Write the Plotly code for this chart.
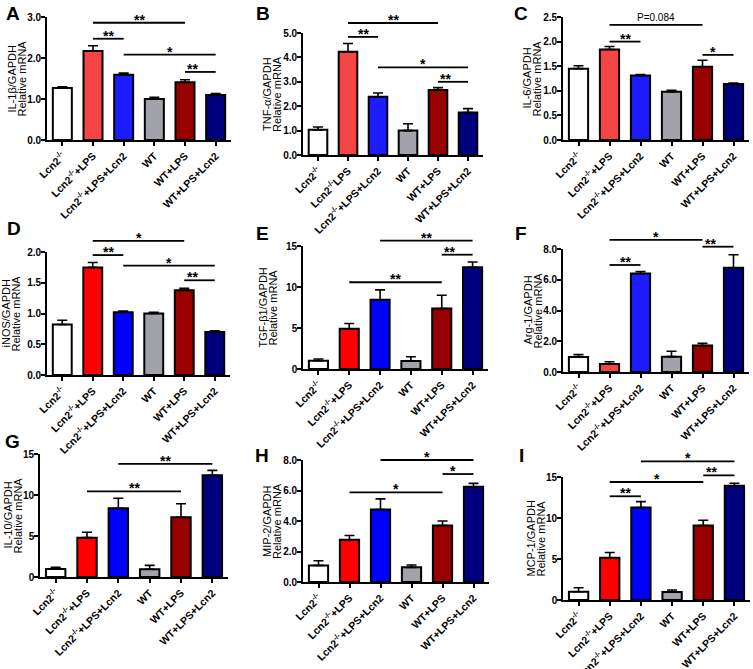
import plotly.graph_objects as go

W, H = 753, 669

groups = ["Lcn2<sup>-/-</sup>", "Lcn2<sup>-/-</sup>+LPS", "Lcn2<sup>-/-</sup>+LPS+Lcn2",
          "WT", "WT+LPS", "WT+LPS+Lcn2"]
groups_b = ["Lcn2<sup>-/-</sup>", "Lcn2<sup>-/-</sup>LPS", "Lcn2<sup>-/-</sup>+LPS+Lcn2",
            "WT", "WT+LPS", "WT+LPS+Lcn2"]

# mean values and upper error (SEM)
il1b_mean = [1.27, 2.17, 1.59, 1.00, 1.41, 1.10]
il1b_sem = [0.03, 0.13, 0.04, 0.04, 0.06, 0.03]
tnfa_mean = [1.03, 4.23, 2.39, 1.00, 2.66, 1.74]
tnfa_sem = [0.12, 0.34, 0.15, 0.28, 0.10, 0.16]
il6_mean = [1.45, 1.84, 1.31, 0.98, 1.49, 1.14]
il6_sem = [0.06, 0.06, 0.02, 0.03, 0.13, 0.02]
inos_mean = [0.82, 1.75, 1.02, 1.00, 1.38, 0.70]
inos_sem = [0.07, 0.08, 0.02, 0.02, 0.03, 0.02]
tgfb1_mean = [1.01, 4.90, 8.43, 0.97, 7.38, 12.40]
tgfb1_sem = [0.21, 0.65, 1.22, 0.53, 1.62, 0.65]
arg1_mean = [0.98, 0.52, 6.41, 1.00, 1.72, 6.78]
arg1_sem = [0.15, 0.15, 0.13, 0.35, 0.15, 0.85]
il10_mean = [0.98, 4.80, 8.37, 0.94, 7.28, 12.40]
il10_sem = [0.20, 0.65, 1.23, 0.48, 1.66, 0.60]
mip2_mean = [1.09, 2.77, 4.75, 0.96, 3.70, 6.25]
mip2_sem = [0.30, 0.28, 0.70, 0.15, 0.30, 0.22]
mcp1_mean = [1.01, 5.15, 11.27, 0.97, 9.08, 13.94]
mcp1_sem = [0.49, 0.65, 0.73, 0.25, 0.65, 0.29]

# significance brackets: (from group index, to group index, height, label)
il1b_sig = [(1, 4, 2.86, "**"), (1, 2, 2.47, "**"), (2, 5, 2.08, "*"), (4, 5, 1.66, "**")]
tnfa_sig = [(1, 4, 5.41, "**"), (1, 2, 4.84, "**"), (2, 5, 3.59, "*"), (4, 5, 3.00, "**")]
il6_sig = [(1, 4, 2.34, "P=0.084"), (1, 2, 2.00, "**"), (4, 5, 1.73, "*")]
inos_sig = [(1, 4, 2.18, "*"), (1, 2, 1.95, "**"), (2, 5, 1.78, "*"), (4, 5, 1.54, "**")]
tgfb1_sig = [(2, 5, 15.65, "**"), (4, 5, 13.94, "**"), (1, 4, 10.58, "**")]
arg1_sig = [(1, 4, 8.59, "*"), (4, 5, 8.15, "**"), (1, 2, 6.96, "**")]
il10_sig = [(2, 5, 13.8, "**"), (1, 4, 10.45, "**")]
mip2_sig = [(2, 5, 8.0, "*"), (4, 5, 7.08, "*"), (1, 4, 5.88, "*")]
mcp1_sig = [(2, 5, 16.9, "*"), (4, 5, 15.2, "**"), (1, 4, 14.39, "*"), (1, 2, 12.65, "**")]

colors_light = ["#FFFFFF", "#F44444", "#1C1CFF", "#A2A2AA", "#990000", "#00007F"]
colors_pure = ["#FFFFFF", "#FF0000", "#0000FF", "#A2A2AA", "#990000", "#00007F"]

panels = [
    dict(letter="A", name="IL-1β/GAPDH", mean=il1b_mean, sem=il1b_sem, sig=il1b_sig, ymax=3.0, dtick=1.0, fmt=".1f",
         labels=groups, colors=colors_light, box=(47, 231, 17, 140), lpos=(13, 14), tx=31),
    dict(letter="B", name="TNF-α/GAPDH", mean=tnfa_mean, sem=tnfa_sem, sig=tnfa_sig, ymax=5.0, dtick=1.0, fmt=".1f",
         labels=groups_b, colors=colors_light, box=(303, 483, 33, 155), lpos=(263, 14), tx=31),
    dict(letter="C", name="IL-6/GAPDH", mean=il6_mean, sem=il6_sem, sig=il6_sig, ymax=2.5, dtick=0.5, fmt=".1f",
         labels=groups, colors=colors_light, box=(563, 749, 17, 140), lpos=(521, 14), tx=32),
    dict(letter="D", name="iNOS/GAPDH", mean=inos_mean, sem=inos_sem, sig=inos_sig, ymax=2.0, dtick=0.5, fmt=".1f",
         labels=groups, colors=colors_pure, box=(47, 230, 252, 375), lpos=(14, 228), tx=36),
    dict(letter="E", name="TGF-β1/GAPDH", mean=tgfb1_mean, sem=tgfb1_sem, sig=tgfb1_sig, ymax=15, dtick=5, fmt="d",
         labels=groups, colors=colors_pure, box=(303, 488, 246, 369), lpos=(262, 233), tx=36),
    dict(letter="F", name="Arg-1/GAPDH", mean=arg1_mean, sem=arg1_sem, sig=arg1_sig, ymax=8.0, dtick=2.0, fmt=".1f",
         labels=groups, colors=colors_light, box=(563, 749, 249, 372), lpos=(521, 233), tx=31),
    dict(letter="G", name="IL-10/GAPDH", mean=il10_mean, sem=il10_sem, sig=il10_sig, ymax=15, dtick=5, fmt="d",
         labels=groups, colors=colors_pure, box=(40, 228, 454, 577), lpos=(13, 441), tx=28),
    dict(letter="H", name="MIP-2/GAPDH", mean=mip2_mean, sem=mip2_sem, sig=mip2_sig, ymax=8.0, dtick=2.0, fmt=".1f",
         labels=groups, colors=colors_pure, box=(303, 489, 460, 582), lpos=(262, 455), tx=31),
    dict(letter="I", name="MCP-1/GAPDH", mean=mcp1_mean, sem=mcp1_sem, sig=mcp1_sig, ymax=15, dtick=5, fmt="d",
         labels=groups, colors=colors_pure, box=(563, 750, 477, 600), lpos=(521, 455), tx=28),
]

FONT = "Liberation Sans, Arial, sans-serif"
XR = [-0.5, 5.5]


def fx(px):
    return px / W


def fy(py):
    return 1 - py / H


fig = go.Figure()
layout = dict(template="none", width=W, height=H, margin=dict(l=0, r=0, t=0, b=0, autoexpand=False),
              paper_bgcolor="white", plot_bgcolor="white", showlegend=False,
              font=dict(family=FONT, color="black"))
shapes = []
annotations = []

for i, p in enumerate(panels):
    n = "" if i == 0 else str(i + 1)
    xa, ya = "xaxis" + n, "yaxis" + n
    xr, yr = "x" + n, "y" + n
    x0, x1, top, bottom = p["box"]
    fig.add_trace(go.Bar(
        x=list(range(6)), y=p["mean"], xaxis=xr, yaxis=yr, width=0.62,
        marker=dict(color=p["colors"], line=dict(color="black", width=2)),
        error_y=dict(type="data", array=p["sem"], arrayminus=[0] * 6, symmetric=False,
                     color="black", thickness=1.6, width=5),
    ))
    layout[xa] = dict(domain=[fx(x0), fx(x1)], anchor=yr, range=XR, automargin=False,
                      tickmode="array", tickvals=list(range(6)),
                      ticktext=["<b>" + t + "</b>" for t in p["labels"]],
                      tickangle=-45, tickfont=dict(size=10.5, family=FONT, color="black"),
                      showline=True, linecolor="black", linewidth=1.6,
                      ticks="outside", ticklen=4, tickwidth=1.5, tickcolor="black",
                      showgrid=False, zeroline=False, fixedrange=True)
    ticks = []
    v = 0.0
    while v <= p["ymax"] + 1e-9:
        ticks.append(v)
        v += p["dtick"]
    if p["fmt"] == "d":
        ttext = ["<b>%d</b>" % t for t in ticks]
    else:
        ttext = ["<b>%.1f</b>" % t for t in ticks]
    layout[ya] = dict(domain=[fy(bottom), fy(top)], anchor=xr, range=[0, p["ymax"]],
                      automargin=False, ticklabelstandoff=-2,
                      tickmode="array", tickvals=ticks, ticktext=ttext,
                      tickfont=dict(size=10, family=FONT, color="black"),
                      showline=True, linecolor="black", linewidth=1.6,
                      ticks="outside", ticklen=4, tickwidth=1.5, tickcolor="black",
                      showgrid=False, zeroline=False, fixedrange=True)
    # y-axis title (two lines)
    for k, line in enumerate([p["name"], "Relative mRNA"]):
        annotations.append(dict(text=line, xref="paper", yref=yr + " domain",
                                x=fx(x0 - p["tx"] + (k - 0.5) * 10), y=0.5, showarrow=False,
                                textangle=-90, xanchor="center", yanchor="middle",
                                font=dict(size=11, family=FONT, color="black")))
    # significance brackets
    for (a, b, h, lab) in p["sig"]:
        fa = (a - XR[0]) / (XR[1] - XR[0])
        fb = (b - XR[0]) / (XR[1] - XR[0])
        fh = h / p["ymax"]
        shapes.append(dict(type="line", xref=xr + " domain", yref=yr + " domain",
                           x0=fa, x1=fb, y0=fh, y1=fh, line=dict(color="black", width=1.8)))
        if lab.startswith("P"):
            annotations.append(dict(text=lab, xref=xr + " domain", yref=yr + " domain",
                                    x=(fa + fb) / 2, y=fh, showarrow=False, yanchor="bottom",
                                    font=dict(size=10, family=FONT, color="black"), yshift=0))
        else:
            annotations.append(dict(text="<b>" + lab + "</b>", xref=xr + " domain", yref=yr + " domain",
                                    x=(fa + fb) / 2, y=fh, showarrow=False, yanchor="bottom",
                                    font=dict(size=14, family=FONT, color="black"), yshift=-7))
    annotations.append(dict(text="<b>" + p["letter"] + "</b>", xref="paper", yref="paper",
                            x=fx(p["lpos"][0]), y=fy(p["lpos"][1]), showarrow=False,
                            xanchor="center", yanchor="middle",
                            font=dict(size=19, family=FONT, color="black")))

layout["shapes"] = shapes
layout["annotations"] = annotations
fig.update_layout(**layout)
fig.write_html("out.html", config={"displayModeBar": False},
               post_script="document.body.style.margin='0';document.body.style.overflow='hidden';")
